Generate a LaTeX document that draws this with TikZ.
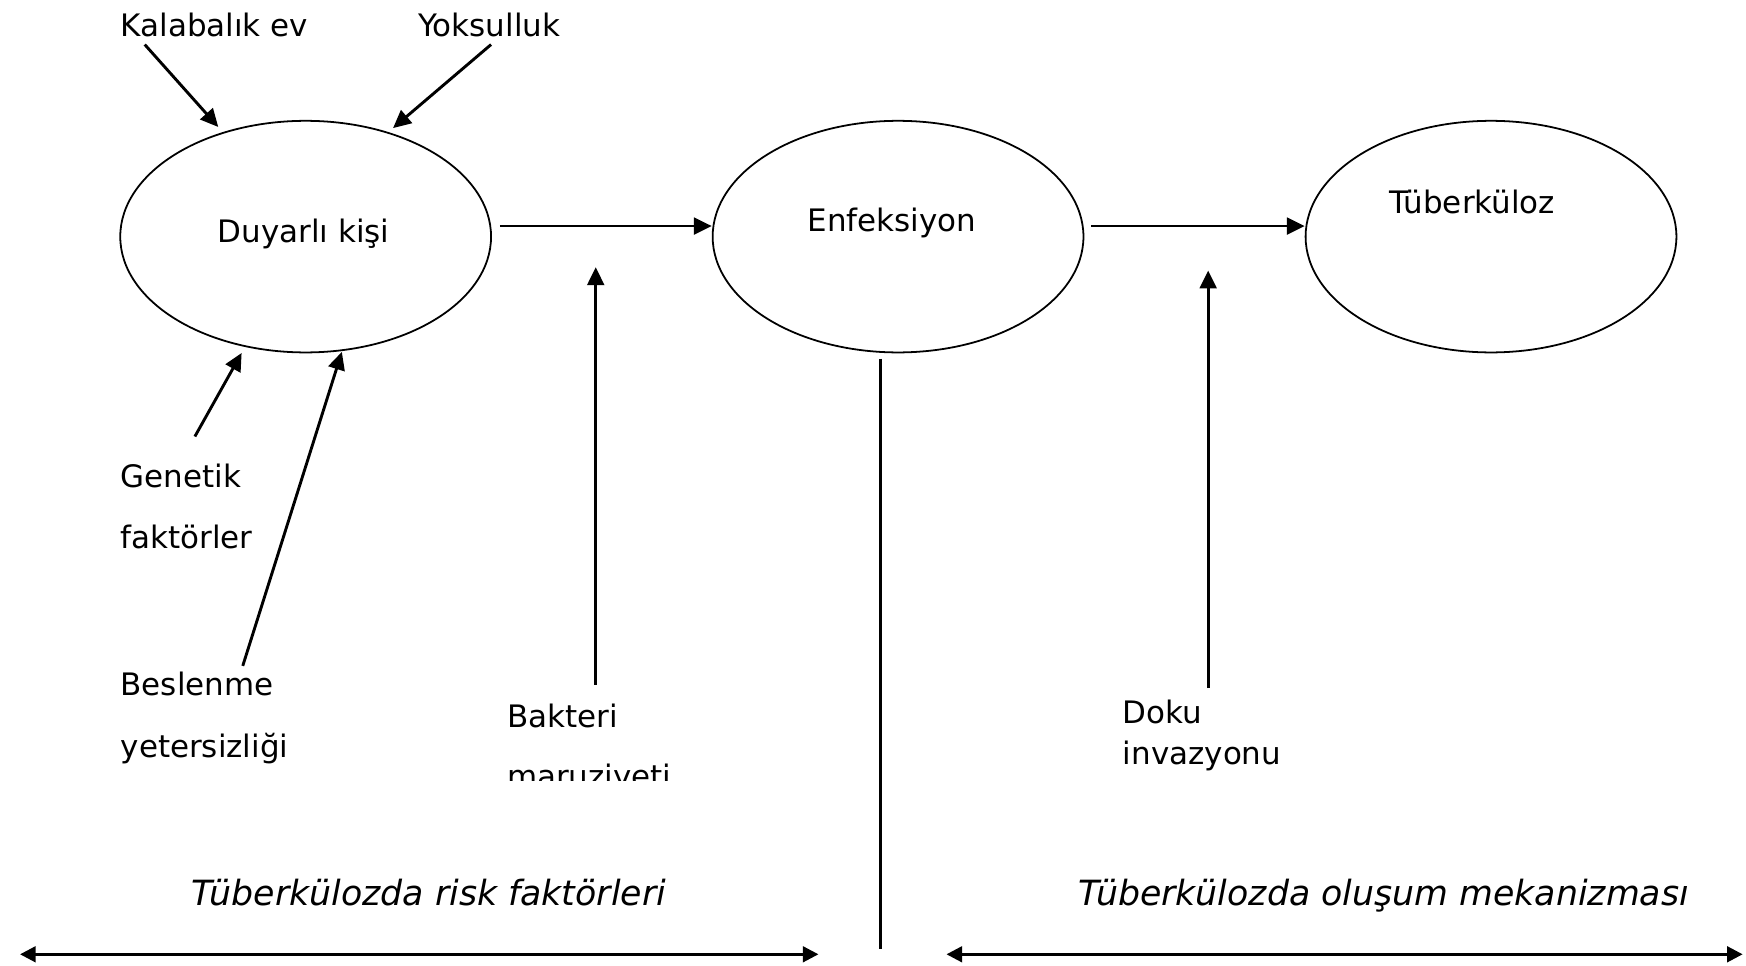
\documentclass[tikz,border=0pt]{standalone}
\usepackage{fontspec}
\setmainfont{DejaVu Sans}
\usetikzlibrary{arrows.meta,shapes.geometric,calc}
\begin{document}
\begin{tikzpicture}[x=0.5pt,y=-0.5pt,
  lbl/.style={inner sep=0pt, anchor=base west, font=\fontsize{13.9pt}{16pt}\selectfont},
  ital/.style={inner sep=0pt, anchor=base west, font=\fontsize{15.6pt}{18pt}\selectfont\itshape},
  oval/.style={draw, ellipse, line width=0.8pt, minimum width=166.5pt, minimum height=104pt, inner sep=0pt},
  tip/.style={Triangle[length=8pt,width=7.5pt]},
  conn/.style={line width=1.3pt, -{Triangle[length=8pt,width=7.5pt]}},
  plainline/.style={line width=1.3pt},
  both/.style={line width=1.3pt, {Triangle[length=7pt,width=7pt]}-{Triangle[length=7pt,width=7pt]}}]
\fill[white] (0,0) rectangle (1568,867.5);
\useasboundingbox (0,0) rectangle (1568,867.5);

% ellipses
\node[oval] (e1) at (274.5,212.5) {};
\node[oval] (e2) at (806.5,212.5) {};
\node[oval] (e3) at (1339,212.5) {};
\node[lbl] (t1) at (195,218) {Duyarlı kişi};
\node[lbl] (t2) at (725,208) {Enfeksiyon};
\node[lbl] (t3) at (1247,192) {Tüberküloz};

% labels
\node[lbl] (kal) at (108,33) {Kalabalık ev};
\node[lbl] (yok) at (375,33) {Yoksulluk};
\node[lbl] (gen1) at (108,438) {Genetik};
\node[lbl] (gen2) at (108,493) {faktörler};
\node[lbl] (bes1) at (108,625) {Beslenme};
\node[lbl] (bes2) at (108,680) {yetersizliği};
\node[lbl] (bak1) at (455,653) {Bakteri};
\begin{scope}
\clip (440,660) rectangle (700,701);
\node[lbl] (bak2) at (455,707) {maruziyeti};
\end{scope}
\node[lbl] (dok1) at (1008,650) {Doku};
\node[lbl] (dok2) at (1008,687) {invazyonu};
\node[ital] (risk) at (172,813) {Tüberkülozda risk faktörleri};
\node[ital] (mek) at (968,813) {Tüberkülozda oluşum mekanizması};

% free ends
\coordinate (ck) at (130,40);
\coordinate (cy) at (441,40);
\coordinate (cg) at (175,392);
\coordinate (cb) at (218,598);
\coordinate (h1) at (449,203);
\coordinate (h2) at (980,203);
\coordinate (v1a) at (535,615);
\coordinate (v1b) at (535,240);
\coordinate (v2a) at (1085,618);
\coordinate (v2b) at (1085,243);
\coordinate (m1) at (791,322);
\coordinate (m2) at (791,852);
\coordinate (l1) at (18,857);
\coordinate (l2) at (735,857);
\coordinate (r1) at (850,857);
\coordinate (r2) at (1565,857);

% connectors
\draw[conn] (ck) -- ($(e1.center)+(-78.5,-98.5)$);
\draw[conn] (cy) -- ($(e1.center)+(78.5,-97.5)$);
\draw[conn] (cg) -- ($(e1.center)+(-57.5,104.5)$);
\draw[conn] (cb) -- ($(e1.center)+(32.5,103.5)$);
\draw[conn] (h1) -- (h1 -| e2.west);
\draw[conn] (h2) -- (h2 -| e3.west);
\draw[conn] (v1a) -- (v1b);
\draw[conn] (v2a) -- (v2b);
\draw[plainline] (m1) -- (m2);
\draw[both] (l1) -- (l2);
\draw[both] (r1) -- (r2);
\end{tikzpicture}
\end{document}
